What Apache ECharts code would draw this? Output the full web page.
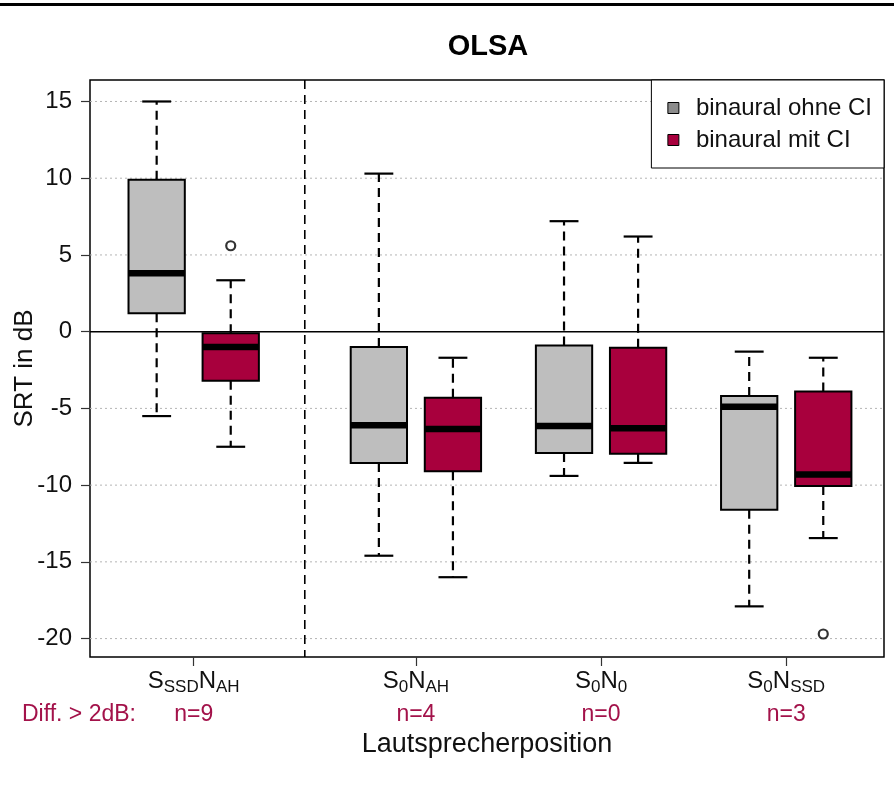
<!DOCTYPE html>
<html>
<head>
<meta charset="utf-8">
<script src="https://cdn.jsdelivr.net/npm/echarts@6/dist/echarts.min.js"></script>
<style>
html,body{margin:0;padding:0;background:#fff;}
#chart{width:894px;height:799px;}
</style>
</head>
<body>
<div id="chart"></div>
<script>
// ---------------- data ----------------
const categories = ['S_{SSD}N_{AH}', 'S_{0}N_{AH}', 'S_{0}N_{0}', 'S_{0}N_{SSD}'];
// [lower whisker, Q1, median, Q3, upper whisker]
const ohneCI = [
  [-5.5, 1.2, 3.8, 9.9, 15.0],
  [-14.6, -8.55, -6.1, -1.0, 10.3],
  [-9.4, -7.9, -6.15, -0.9, 7.2],
  [-17.9, -11.6, -4.9, -4.2, -1.3]
];
const mitCI = [
  [-7.5, -3.2, -1.0, -0.1, 3.35],
  [-16.0, -9.1, -6.35, -4.3, -1.7],
  [-8.55, -7.95, -6.3, -1.05, 6.2],
  [-13.45, -10.05, -9.3, -3.9, -1.7]
];
// outliers: [category index, value]
const ohneOutliers = [];
const mitOutliers = [[0, 5.6], [3, -19.7]];
const diffCounts = [9, 4, 0, 3];
const yTicks = [-20, -15, -10, -5, 0, 5, 10, 15];
const seriesNames = ['binaural ohne CI', 'binaural mit CI'];

// ---------------- layout ----------------
const FONT = '"Liberation Sans", Arial, Helvetica, sans-serif';
const groupCenters = [1.5, 4.5, 7, 9.5];
const pairOffset = 0.5;
const separatorX = 3;
const BOX_W = 0.76;
const CAP_W = 0.39;
const GRAY = '#BEBEBE';
const RED = '#A8003D';
const RED_TXT = '#A3124A';

function boxData(stats, side) {
  return stats.map((s, i) => [groupCenters[i] + side * pairOffset].concat(s));
}
function outlierData(list, side) {
  return list.map(o => [groupCenters[o[0]] + side * pairOffset, o[1]]);
}

function makeBoxRenderer(fill) {
  return function (params, api) {
    const x = api.value(0);
    const pLo = api.coord([x, api.value(1)]);
    const pQ1 = api.coord([x, api.value(2)]);
    const pMed = api.coord([x, api.value(3)]);
    const pQ3 = api.coord([x, api.value(4)]);
    const pHi = api.coord([x, api.value(5)]);
    const half = api.size([BOX_W, 0])[0] / 2;
    const cap = api.size([CAP_W, 0])[0] / 2;
    const cx = pLo[0];
    const dash = {stroke: '#000', lineWidth: 2.2, lineDash: [9, 6]};
    const solid = {stroke: '#000', lineWidth: 2.2};
    return {
      type: 'group',
      children: [
        {type: 'line', shape: {x1: cx, y1: pQ3[1], x2: cx, y2: pHi[1]}, style: dash},
        {type: 'line', shape: {x1: cx, y1: pQ1[1], x2: cx, y2: pLo[1]}, style: dash},
        {type: 'line', shape: {x1: cx - cap, y1: pHi[1], x2: cx + cap, y2: pHi[1]}, style: solid},
        {type: 'line', shape: {x1: cx - cap, y1: pLo[1], x2: cx + cap, y2: pLo[1]}, style: solid},
        {type: 'rect', shape: {x: cx - half, y: pQ3[1], width: 2 * half, height: pQ1[1] - pQ3[1]},
          style: {fill: fill, stroke: '#000', lineWidth: 2}},
        {type: 'line', shape: {x1: cx - half, y1: pMed[1], x2: cx + half, y2: pMed[1]},
          style: {stroke: '#000', lineWidth: 6.5}}
      ]
    };
  };
}

function catLabel(str, count) {
  const parts = str.split(/(_\{[^}]*\})/).filter(p => p.length);
  const main = parts.map(p => p.startsWith('_{') ? '{s|' + p.slice(2, -1) + '}' : '{n|' + p + '}').join('');
  return main + '\n{r|n=' + count + '}';
}

const chart = echarts.init(document.getElementById('chart'), null, {renderer: 'canvas'});

const option = {
  animation: false,
  backgroundColor: '#fff',
  textStyle: {fontFamily: FONT},
  title: {
    text: 'OLSA',
    left: 483, top: 27, textAlign: 'center',
    textStyle: {fontSize: 29, fontWeight: 'bold', color: '#000', fontFamily: FONT}
  },
  legend: {
    orient: 'vertical',
    right: 10, top: 80,
    backgroundColor: '#fff',
    borderColor: '#000', borderWidth: 1,
    borderRadius: 0,
    padding: [16, 12, 16, 16],
    itemWidth: 11, itemHeight: 11, itemGap: 8,
    icon: 'rect',
    data: [
      {name: seriesNames[0], itemStyle: {color: '#8C8C8C', borderColor: '#000', borderWidth: 1}},
      {name: seriesNames[1], itemStyle: {color: RED, borderColor: '#000', borderWidth: 1}}
    ],
    textStyle: {fontSize: 24, color: '#111', fontFamily: FONT, padding: [0, 0, 0, 12], lineHeight: 24}
  },
  grid: {
    left: 90, right: 10, top: 80, bottom: 142,
    outerBoundsMode: 'none',
    containLabel: false,
    show: true, borderColor: '#000', borderWidth: 1.5, backgroundColor: 'transparent'
  },
  xAxis: {
    type: 'value', min: 0.1, max: 10.82,
    axisLine: {show: false, onZero: false},
    splitLine: {show: false},
    axisTick: {show: true, length: 9, customValues: groupCenters, lineStyle: {color: '#333', width: 1.2}},
    axisLabel: {
      customValues: groupCenters,
      margin: 9,
      formatter: function (v) {
        let idx = 0, best = 1e9;
        groupCenters.forEach((c, i) => { if (Math.abs(c - v) < best) { best = Math.abs(c - v); idx = i; } });
        return catLabel(categories[idx], diffCounts[idx]);
      },
      rich: {
        n: {fontSize: 24, lineHeight: 30, color: '#111', fontFamily: FONT},
        s: {fontSize: 17, color: '#111', fontFamily: FONT, verticalAlign: 'bottom'},
        r: {fontSize: 23, lineHeight: 38, color: RED_TXT, fontFamily: FONT}
      }
    },
    name: 'Lautsprecherposition',
    nameLocation: 'middle',
    nameGap: 74,
    nameTextStyle: {fontSize: 27, color: '#111', fontFamily: FONT}
  },
  yAxis: {
    type: 'value', min: -21.2, max: 16.4,
    axisLine: {show: false, onZero: false},
    splitLine: {show: false},
    axisTick: {show: true, length: 9, customValues: yTicks, lineStyle: {color: '#333', width: 1.2}},
    axisLabel: {customValues: yTicks, margin: 18, fontSize: 24, color: '#111', fontFamily: FONT},
    name: 'SRT in dB',
    nameLocation: 'middle',
    nameMoveOverlap: false,
    nameGap: 52,
    nameTextStyle: {fontSize: 26, color: '#111', fontFamily: FONT}
  },
  graphic: [
    {type: 'rect', left: 0, top: 3, shape: {width: 894, height: 3}, style: {fill: '#000'}},
    {type: 'text', left: 22, top: 703, style: {text: 'Diff. > 2dB:', fill: RED_TXT, fontSize: 23, fontFamily: FONT}}
  ],
  series: [
    {
      name: 'grid', type: 'custom', z: 1, silent: true,
      data: yTicks.filter(v => v !== 0).map(v => [v]),
      encode: {y: 0},
      renderItem: function (params, api) {
        const cs = params.coordSys;
        const y = api.coord([0.1, api.value(0)])[1];
        return {type: 'line', shape: {x1: cs.x, y1: y, x2: cs.x + cs.width, y2: y},
          style: {stroke: '#B4B4B4', lineWidth: 1, lineDash: [2, 3]}};
      }
    },
    {
      name: 'zero', type: 'custom', z: 2, silent: true,
      data: [[0]],
      encode: {y: 0},
      renderItem: function (params, api) {
        const cs = params.coordSys;
        const y = api.coord([0.1, api.value(0)])[1];
        return {type: 'line', shape: {x1: cs.x, y1: y, x2: cs.x + cs.width, y2: y},
          style: {stroke: '#000', lineWidth: 1.5}};
      }
    },
    {
      name: 'separator', type: 'custom', z: 2, silent: true,
      data: [[separatorX]],
      encode: {x: 0},
      renderItem: function (params, api) {
        const cs = params.coordSys;
        const x = api.coord([api.value(0), 0])[0];
        return {type: 'line', shape: {x1: x, y1: cs.y, x2: x, y2: cs.y + cs.height},
          style: {stroke: '#000', lineWidth: 1.6, lineDash: [9, 6]}};
      }
    },
    {
      name: seriesNames[0], type: 'custom', z: 3,
      itemStyle: {color: GRAY},
      data: boxData(ohneCI, -1),
      encode: {x: 0, y: [1, 2, 3, 4, 5]},
      renderItem: makeBoxRenderer(GRAY)
    },
    {
      name: seriesNames[1], type: 'custom', z: 3,
      itemStyle: {color: RED},
      data: boxData(mitCI, 1),
      encode: {x: 0, y: [1, 2, 3, 4, 5]},
      renderItem: makeBoxRenderer(RED)
    },
    {
      name: 'outliers ohne', type: 'scatter', z: 4,
      symbol: 'circle', symbolSize: 9,
      itemStyle: {color: '#fff', borderColor: '#000', borderWidth: 2.2},
      data: outlierData(ohneOutliers, -1)
    },
    {
      name: 'outliers mit', type: 'scatter', z: 4,
      symbol: 'circle', symbolSize: 9,
      itemStyle: {color: '#fff', borderColor: '#000', borderWidth: 2.2},
      data: outlierData(mitOutliers, 1)
    }
  ]
};
chart.setOption(option);
</script>
</body>
</html>
